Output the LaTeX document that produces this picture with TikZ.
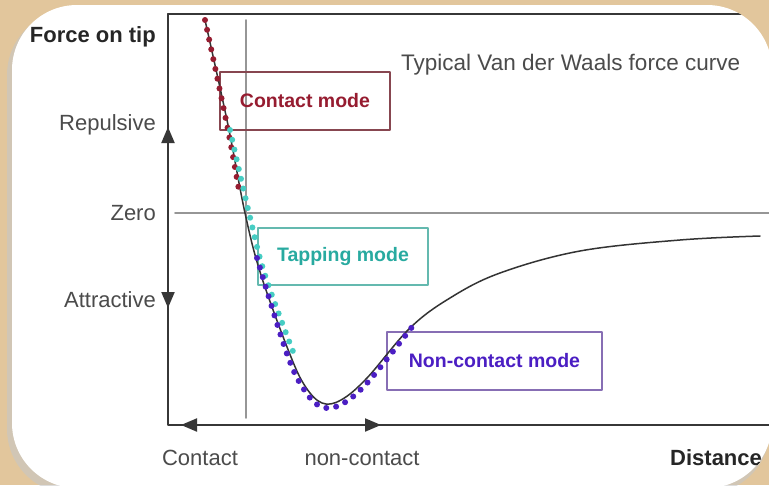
\documentclass[tikz,border=0pt]{standalone}
\usepackage{fontspec}
\setmainfont{Liberation Sans}
\usetikzlibrary{arrows.meta}
\definecolor{bgtan}{RGB}{226,198,156}
\definecolor{axisgray}{RGB}{55,55,55}
\definecolor{gridgray}{RGB}{150,150,150}
\definecolor{labelgray}{RGB}{75,75,75}
\definecolor{contactred}{RGB}{150,28,48}
\definecolor{contactedge}{RGB}{135,70,80}
\definecolor{tapteal}{RGB}{40,170,160}
\definecolor{tapdots}{RGB}{70,205,195}
\definecolor{tapedge}{RGB}{100,185,175}
\definecolor{ncblue}{RGB}{75,30,195}
\definecolor{ncedge}{RGB}{135,110,180}
\begin{document}
\begin{tikzpicture}[x=1pt, y=-1pt, line join=round, line cap=round,
    >={Triangle[length=16pt, width=13pt]},
    axisline/.style={draw=axisgray, line width=2pt},
    gridline/.style={draw=gridgray, line width=1.6pt},
    lbl/.style={text=labelgray, inner sep=0pt, font=\fontsize{22}{26}\selectfont},
    boldlbl/.style={text=black!85, inner sep=0pt, font=\bfseries\fontsize{22}{26}\selectfont},
    modebox/.style={draw, line width=1.8pt, inner sep=0pt, font=\bfseries\fontsize{19.5}{23}\selectfont},
    dots/.style={line width=6pt, dash pattern=on 0pt off 10pt, line cap=round}]
  % Nen va khung trang
  \useasboundingbox (0,0) rectangle (769,485);
  \fill[bgtan] (0,0) rectangle (769,485);
  \fill[gray!45, opacity=0.6, rounded corners=65pt] (7,10) rectangle (770,494);
  \fill[white, rounded corners=65pt] (12,5) rectangle (772,488);
  \begin{scope}
    \clip[rounded corners=65pt] (12,5) rectangle (772,488);
    % Gan toa do
    \coordinate (O) at (168,425);
    \coordinate (T) at (168,14);
    \coordinate (TR) at (790,14);
    \coordinate (BR) at (790,425);
    \coordinate (Z1) at (175,213);
    \coordinate (Z2) at (790,213);
    \coordinate (V1) at (246,20);
    \coordinate (V2) at (246,418);
    % Truc va luoi
    \draw[gridline] (Z1) -- (Z2);
    \draw[gridline] (V1) -- (V2);
    \draw[axisline] (T) -- (O) -- (BR);
    \draw[axisline] (T) -- (TR);
    % Mui ten tren truc
    \coordinate (up0) at (168,150);   \coordinate (up1) at (168,127);
    \coordinate (dn0) at (168,285);   \coordinate (dn1) at (168,308);
    \coordinate (lf0) at (205,425);   \coordinate (lf1) at (181,425);
    \coordinate (rt0) at (355,425);   \coordinate (rt1) at (381,425);
    \draw[axisline, ->] (up0) -- (up1);
    \draw[axisline, ->] (dn0) -- (dn1);
    \draw[axisline, ->] (lf0) -- (lf1);
    \draw[axisline, ->] (rt0) -- (rt1);
    % Nhan
    \node[boldlbl, anchor=east] (force) at (156,37) {Force on tip};
    \node[lbl, anchor=east] (rep) at (156,125) {Repulsive};
    \node[lbl, anchor=east] (zero) at (156,213) {Zero};
    \node[lbl, anchor=east] (att) at (156,300) {Attractive};
    \node[lbl] (contact) at (200,458) {Contact};
    \node[lbl] (noncontact) at (362,458) {non-contact};
    \node[boldlbl, anchor=west] (dist) at (670,458) {Distance};
    \node[lbl, anchor=west, font=\fontsize{22.5}{26}\selectfont] (title) at (401,65) {Typical Van der Waals force curve};
    % Cac hop che do
    \node[modebox, draw=contactedge, text=contactred, minimum width=170pt, minimum height=58pt] (cmode) at (305,101) {Contact mode};
    \node[modebox, draw=tapedge, text=tapteal, minimum width=170pt, minimum height=57pt] (tmode) at (343,256.5) {Tapping mode};
    \node[modebox, draw=ncedge, text=ncblue, minimum width=215pt, minimum height=58pt] (nmode) at (494.5,361) {Non-contact mode};
    % Duong cong luc
    \draw[black!80, line width=1.5pt] plot[smooth, tension=0.6] coordinates {(205,20) (228,125) (245,213) (261,275) (289,352) (305,386) (322,403) (341,400) (367,378) (410,328) (450,298) (500,273) (580,251) (680,240) (760,236)};
    % Cac doan cham
    \draw[dots, contactred] plot[smooth, tension=0.6] coordinates {(205,20) (227,125) (240,196)};
    \draw[dots, tapdots] plot[smooth, tension=0.6] coordinates {(230,130) (249,213) (265,275) (294,354)};
    \draw[dots, ncblue] plot[smooth, tension=0.6] coordinates {(257,258) (287,354) (305,391) (322,407) (342,404) (368,382) (412,327)};
  \end{scope}
\end{tikzpicture}
\end{document}
